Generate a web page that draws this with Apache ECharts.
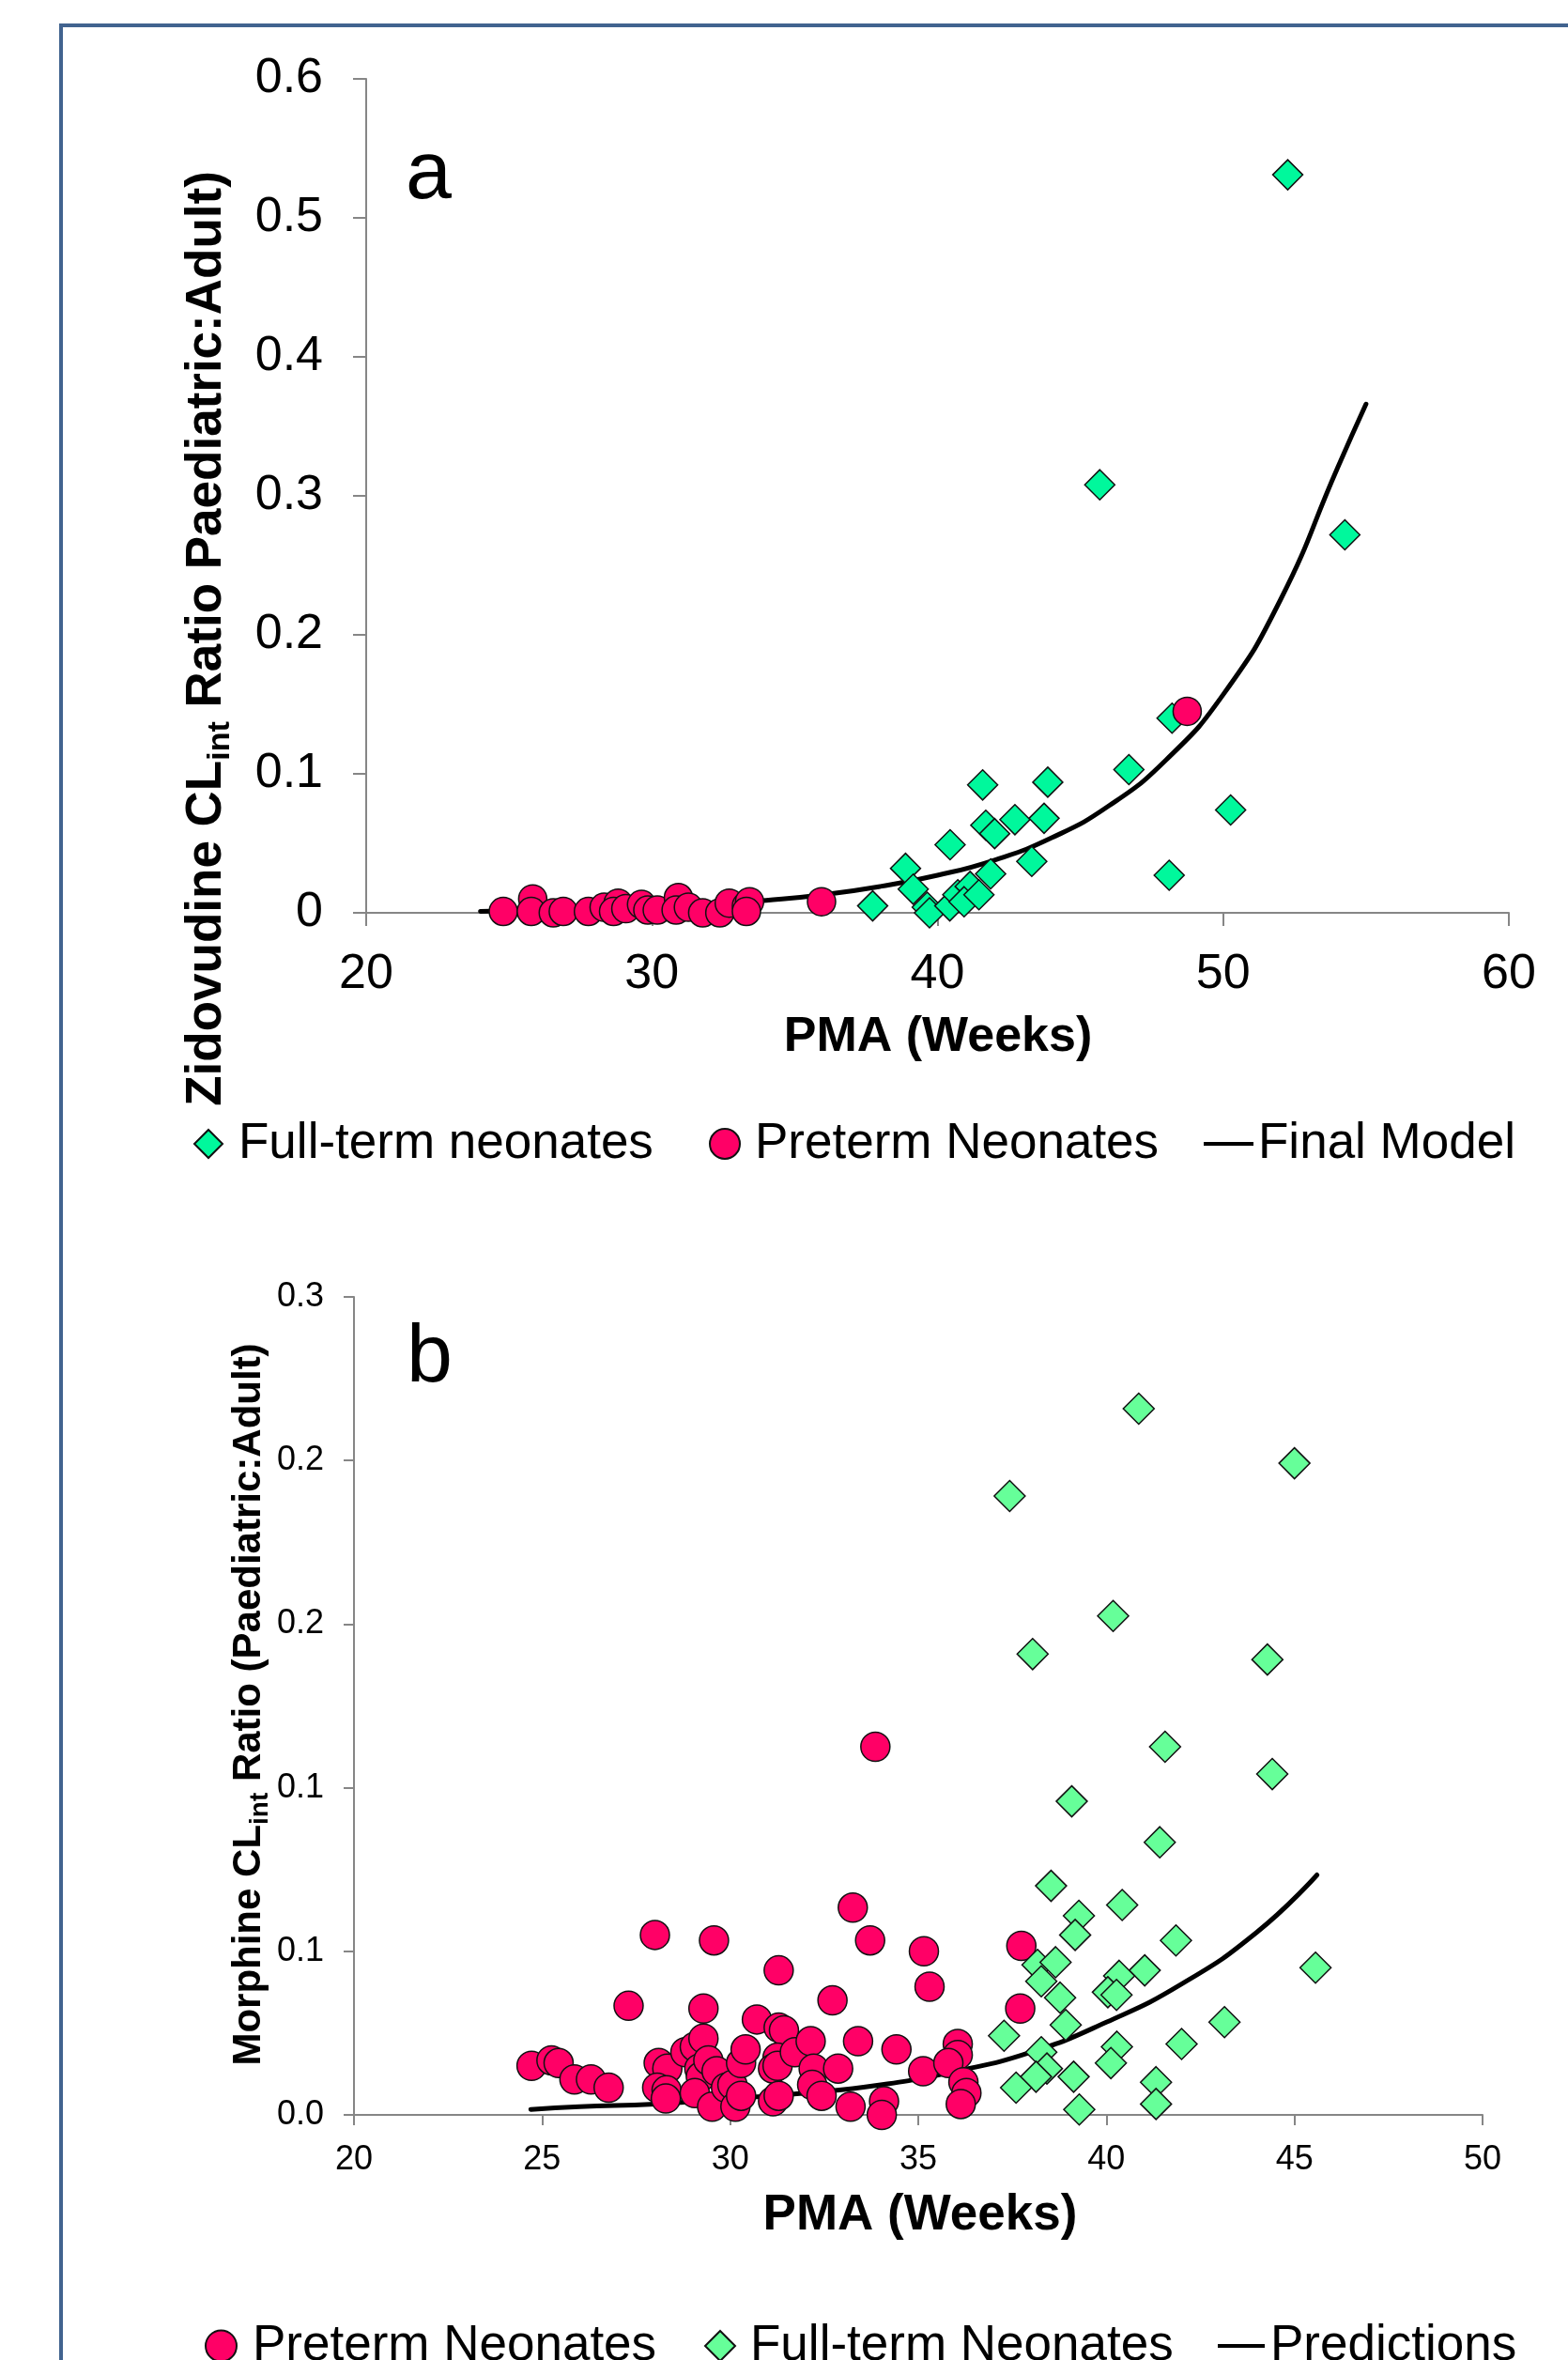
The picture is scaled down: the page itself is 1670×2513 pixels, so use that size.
<!DOCTYPE html>
<html>
<head>
<meta charset="utf-8">
<script src="https://cdn.jsdelivr.net/npm/echarts@6/dist/echarts.min.js"></script>
<style>
  html, body { margin: 0; padding: 0; background: #ffffff; }
  #chart { width: 1670px; height: 2513px; }
</style>
</head>
<body>
<div id="chart"></div>
<script>
// ---- panel a : zidovudine ----
const aFullPma = [52.26, 45.68, 54.26, 48.21, 46.70, 41.58, 43.86, 50.26, 42.71, 43.73, 41.69, 42.00, 40.44,
  43.30, 38.88, 41.86, 48.11, 39.15, 37.73, 39.64, 39.72, 40.43, 40.71, 41.14, 40.93, 41.45]
const aFullRatio = [0.531, 0.308, 0.272, 0.140, 0.103, 0.092, 0.094, 0.074, 0.067, 0.068, 0.063, 0.057, 0.049,
  0.037, 0.032, 0.028, 0.027, 0.017, 0.005, 0.004, 0.000, 0.005, 0.013, 0.019, 0.008, 0.013]

const aPretermPma = [24.80, 25.83, 25.78, 26.55, 26.90, 27.78, 28.33, 28.82, 28.66, 29.09, 29.64, 29.86,
  30.19, 30.93, 30.85, 31.28, 31.78, 32.38, 32.71, 33.31, 33.42, 33.31, 35.94, 48.74]
const aPretermRatio = [0.001, 0.010, 0.001, 0.000, 0.001, 0.001, 0.004, 0.007, 0.001, 0.003, 0.006, 0.002,
  0.002, 0.011, 0.002, 0.004, 0.000, 0.000, 0.007, 0.005, 0.008, 0.001, 0.008, 0.145]

const aModelPma = [24, 26, 28, 30, 32, 34, 36, 38, 40, 42, 44, 46, 48, 50, 52, 54, 55]
const aModelRatio = [0.001, 0.002, 0.003, 0.004, 0.006, 0.009, 0.013, 0.019, 0.027, 0.038, 0.054, 0.077,
  0.110, 0.157, 0.225, 0.320, 0.366]

// ---- panel b : morphine ----
const bPretermPma = [24.72, 25.25, 25.44, 25.86, 26.30, 26.77, 27.30, 28.00, 29.57, 28.10, 28.33, 28.06,
  28.31, 28.29, 28.81, 29.06, 29.29, 29.29, 29.18, 29.22, 29.06, 29.42, 29.64, 29.52, 29.89, 30.06, 30.14,
  30.29, 30.29, 30.41, 30.71, 31.29, 31.29, 31.43, 31.26, 31.14, 31.26, 31.14, 31.29, 31.72, 32.14, 32.22,
  32.18, 32.43, 32.72, 32.87, 33.26, 33.72, 33.40, 33.86, 34.42, 33.20, 34.09, 34.03, 35.15, 35.30, 35.13,
  36.05, 36.05, 35.80, 36.20, 36.28, 36.13, 37.74, 37.71]
const bPretermRatio = [0.018, 0.020, 0.019, 0.013, 0.013, 0.010, 0.040, 0.066, 0.064, 0.019, 0.017, 0.010,
  0.009, 0.006, 0.023, 0.025, 0.039, 0.028, 0.017, 0.014, 0.008, 0.020, 0.016, 0.003, 0.010, 0.011, 0.003,
  0.007, 0.019, 0.024, 0.035, 0.053, 0.032, 0.031, 0.021, 0.017, 0.018, 0.005, 0.007, 0.023, 0.027, 0.017,
  0.011, 0.007, 0.042, 0.017, 0.076, 0.064, 0.027, 0.135, 0.024, 0.003, 0.005, 0.000, 0.060, 0.047, 0.016,
  0.026, 0.022, 0.019, 0.012, 0.008, 0.004, 0.062, 0.039]

const bFullPma = [40.86, 45.00, 37.43, 40.18, 38.04, 44.28, 41.56, 44.41, 39.08, 41.42, 38.53, 40.42, 39.27,
  39.17, 41.85, 45.56, 38.17, 38.65, 38.27, 41.02, 40.34, 40.04, 40.27, 38.77, 38.92, 43.14, 37.28, 42.00,
  40.28, 40.12, 38.27, 38.42, 38.13, 39.13, 37.60, 41.32, 41.32, 39.28]
const bFullRatio = [0.259, 0.239, 0.227, 0.183, 0.169, 0.167, 0.135, 0.125, 0.115, 0.100, 0.084, 0.077, 0.073,
  0.066, 0.064, 0.054, 0.055, 0.056, 0.049, 0.053, 0.051, 0.045, 0.044, 0.043, 0.033, 0.034, 0.029, 0.026,
  0.025, 0.019, 0.023, 0.017, 0.014, 0.014, 0.010, 0.012, 0.004, 0.002]

const bPredPma = [24.7, 26, 28, 30, 32, 34, 36, 38, 40, 42, 44, 45.6]
const bPredRatio = [0.002, 0.003, 0.004, 0.006, 0.008, 0.011, 0.016, 0.023, 0.034, 0.048, 0.067, 0.088]

const FONT = '"Liberation Sans", Arial, Helvetica, sans-serif'
const AXIS_GREY = '#868686'
const PINK = '#FF0066'

const zip = (xs, ys) => xs.map((x, i) => [x, ys[i]])

const axisCommon = (fontSize, tickLen, margin) => ({
  type: 'value',
  axisLine: { show: true, onZero: false, lineStyle: { color: AXIS_GREY, width: 2 } },
  axisTick: { show: true, inside: false, length: tickLen, lineStyle: { color: AXIS_GREY, width: 2 } },
  splitLine: { show: false },
  axisLabel: { color: '#000', fontSize: fontSize, fontFamily: FONT, margin: margin }
})

const legendText = (padLeft) => ({
  color: '#000', fontSize: 53, fontFamily: FONT, lineHeight: 60, padding: [0, 0, 0, padLeft]
})

const chart = echarts.init(document.getElementById('chart'))

const option = {
  animation: false,
  backgroundColor: '#ffffff',
  grid: [
    { left: 390, top: 84, width: 1217, height: 888 },
    { left: 377, top: 1381, width: 1202, height: 871 }
  ],
  xAxis: [
    Object.assign(axisCommon(52, 14, 40), { gridIndex: 0, min: 20, max: 60, interval: 10 }),
    Object.assign(axisCommon(36, 11, 30), { gridIndex: 1, min: 20, max: 50, interval: 5 })
  ],
  yAxis: [
    Object.assign(axisCommon(52, 14, 46), {
      gridIndex: 0, min: 0, max: 0.6, interval: 0.1,
      axisLabel: { color: '#000', fontSize: 52, fontFamily: FONT, margin: 46,
        formatter: v => (v === 0 ? '0' : v.toFixed(1)) }
    }),
    Object.assign(axisCommon(36, 11, 32), {
      gridIndex: 1, min: 0, max: 0.3, interval: 0.06,
      axisLabel: { color: '#000', fontSize: 36, fontFamily: FONT, margin: 32,
        formatter: v => v.toFixed(1) }
    })
  ],
  legend: [
    { data: ['Full-term neonates'], left: 206, top: 1188, padding: 0, itemWidth: 30, itemHeight: 30,
      icon: 'diamond', textStyle: legendText(12) },
    { data: ['Preterm Neonates'], left: 755, top: 1188, padding: 0, itemWidth: 32, itemHeight: 32,
      icon: 'circle', textStyle: legendText(11) },
    { data: ['Final Model'], left: 1282, top: 1188, padding: 0, itemWidth: 53, itemHeight: 4,
      icon: 'rect', textStyle: legendText(0) },
    { data: ['Preterm Neonates'], left: 218, top: 2468, padding: 0, itemWidth: 33, itemHeight: 33,
      icon: 'circle', textStyle: legendText(12) },
    { data: ['Full-term Neonates'], left: 750, top: 2468, padding: 0, itemWidth: 32, itemHeight: 32,
      icon: 'diamond', textStyle: legendText(11) },
    { data: ['Predictions'], left: 1297, top: 2468, padding: 0, itemWidth: 50, itemHeight: 4,
      icon: 'rect', textStyle: legendText(1) }
  ],
  graphic: [
    { type: 'rect', shape: { x: 65, y: 27, width: 1700, height: 2600 },
      style: { fill: 'none', stroke: '#41638f', lineWidth: 4 }, z: 100 },
    { type: 'text', x: 432, y: 187,
      style: { text: 'a', fontSize: 88, fontFamily: FONT, fill: '#000', align: 'left', verticalAlign: 'middle' } },
    { type: 'text', x: 433, y: 1447,
      style: { text: 'b', fontSize: 88, fontFamily: FONT, fill: '#000', align: 'left', verticalAlign: 'middle' } },
    { type: 'text', x: 999, y: 1105,
      style: { text: 'PMA (Weeks)', fontSize: 52, fontWeight: 'bold', fontFamily: FONT, fill: '#000',
        align: 'center', verticalAlign: 'middle' } },
    { type: 'text', x: 980, y: 2359,
      style: { text: 'PMA (Weeks)', fontSize: 53, fontWeight: 'bold', fontFamily: FONT, fill: '#000',
        align: 'center', verticalAlign: 'middle' } },
    { type: 'text', x: 220, y: 680, rotation: Math.PI / 2,
      style: {
        text: '{m|Zidovudine CL}{s|int}{m| Ratio Paediatric:Adult)}',
        align: 'center', verticalAlign: 'middle', fill: '#000',
        rich: {
          m: { fontSize: 53, fontWeight: 'bold', fontFamily: FONT, lineHeight: 64 },
          s: { fontSize: 34, fontWeight: 'bold', fontFamily: FONT, lineHeight: 34, verticalAlign: 'bottom' }
        }
      } },
    { type: 'text', x: 265, y: 1815, rotation: Math.PI / 2,
      style: {
        text: '{m|Morphine CL}{s|int}{m| Ratio (Paediatric:Adult)}',
        align: 'center', verticalAlign: 'middle', fill: '#000',
        rich: {
          m: { fontSize: 42, fontWeight: 'bold', fontFamily: FONT, lineHeight: 52 },
          s: { fontSize: 28, fontWeight: 'bold', fontFamily: FONT, lineHeight: 28, verticalAlign: 'bottom' }
        }
      } }
  ],
  series: [
    {
      name: 'Final Model', type: 'line', xAxisIndex: 0, yAxisIndex: 0,
      data: zip(aModelPma, aModelRatio), smooth: true, symbol: 'none', z: 2,
      itemStyle: { color: '#000' }, lineStyle: { color: '#000', width: 5, cap: 'round' }
    },
    {
      name: 'Full-term neonates', type: 'scatter', xAxisIndex: 0, yAxisIndex: 0,
      data: zip(aFullPma, aFullRatio), symbol: 'diamond', symbolSize: 32, z: 3,
      itemStyle: { color: '#00F89C', borderColor: '#111', borderWidth: 1.5, opacity: 1 }
    },
    {
      name: 'Preterm Neonates', type: 'scatter', xAxisIndex: 0, yAxisIndex: 0,
      data: zip(aPretermPma, aPretermRatio), symbol: 'circle', symbolSize: 30, z: 4,
      itemStyle: { color: PINK, borderColor: '#111', borderWidth: 1.5, opacity: 1 }
    },
    {
      name: 'Predictions', type: 'line', xAxisIndex: 1, yAxisIndex: 1,
      data: zip(bPredPma, bPredRatio), smooth: true, symbol: 'none', z: 2,
      itemStyle: { color: '#000' }, lineStyle: { color: '#000', width: 5, cap: 'round' }
    },
    {
      name: 'Preterm Neonates', type: 'scatter', xAxisIndex: 1, yAxisIndex: 1,
      data: zip(bPretermPma, bPretermRatio), symbol: 'circle', symbolSize: 31, z: 3,
      itemStyle: { color: PINK, borderColor: '#111', borderWidth: 1.5, opacity: 1 }
    },
    {
      name: 'Full-term Neonates', type: 'scatter', xAxisIndex: 1, yAxisIndex: 1,
      data: zip(bFullPma, bFullRatio), symbol: 'diamond', symbolSize: 33, z: 4,
      itemStyle: { color: '#66FF99', borderColor: '#111', borderWidth: 1.5, opacity: 1 }
    }
  ]
}

chart.setOption(option)
window.addEventListener('resize', () => chart.resize())
</script>
</body>
</html>
